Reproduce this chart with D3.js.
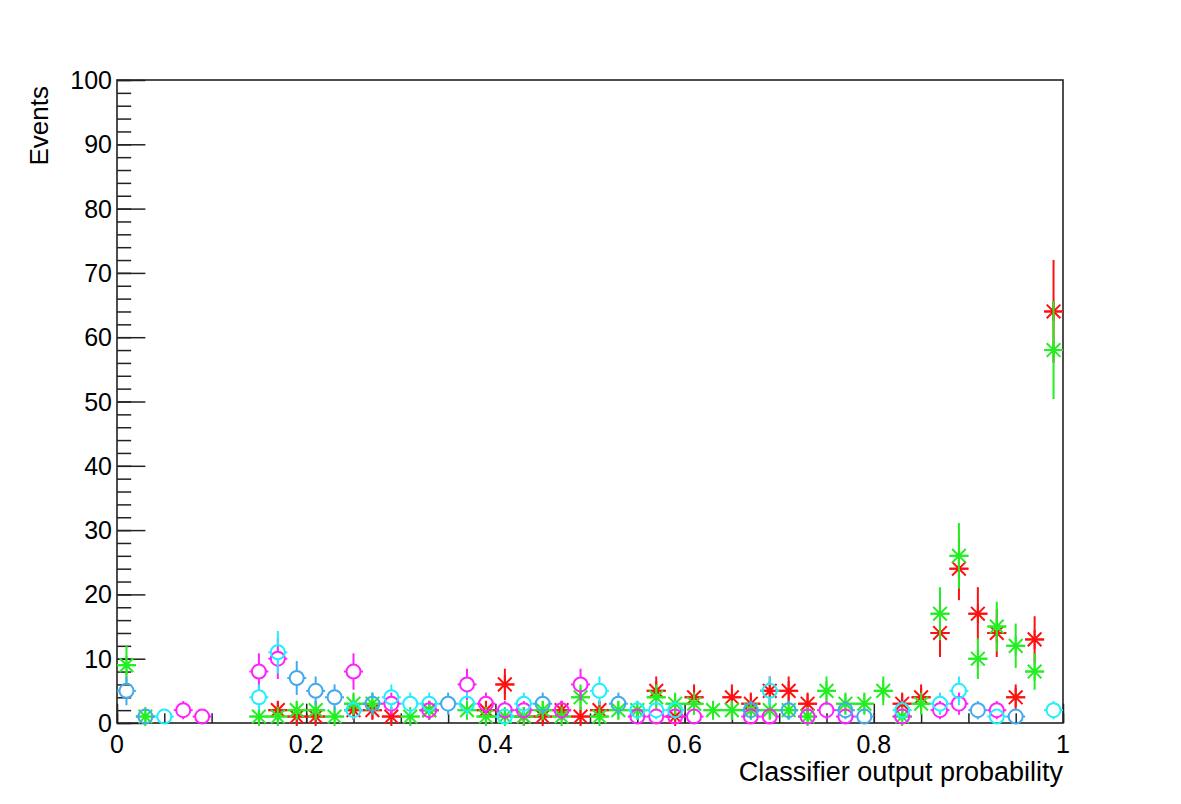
<!DOCTYPE html>
<html>
<head>
<meta charset="utf-8">
<script src="https://cdn.jsdelivr.net/npm/d3@7"></script>
<style>
  html, body { margin: 0; padding: 0; background: #fff; }
  svg text { font-family: "Liberation Sans", Arial, Helvetica, sans-serif; fill: #000; }
</style>
</head>
<body>
<svg id="chart" width="1181" height="804"></svg>
<script>
// bin centres, width 0.02 over [0,1]
const BIN_W = 0.02;

// per-series contents: [bin centre, events]; empty bins are left out
const redStars = [
  [0.17, 2], [0.19, 1], [0.21, 1], [0.25, 2], [0.27, 2], [0.29, 1], [0.33, 2],
  [0.39, 2], [0.41, 6], [0.43, 1], [0.45, 1], [0.47, 2], [0.49, 1], [0.51, 2],
  [0.57, 5], [0.59, 1], [0.61, 4], [0.65, 4], [0.67, 3], [0.69, 5], [0.71, 5],
  [0.73, 3], [0.83, 3], [0.85, 4], [0.87, 14], [0.89, 24], [0.91, 17],
  [0.93, 14], [0.95, 4], [0.97, 13], [0.99, 64]
];
const greenStars = [
  [0.01, 9], [0.03, 1], [0.15, 1], [0.17, 1], [0.19, 2], [0.21, 2], [0.23, 1],
  [0.25, 3], [0.27, 3], [0.31, 1], [0.33, 2], [0.37, 2], [0.39, 1], [0.41, 1],
  [0.43, 1], [0.45, 2], [0.47, 1], [0.49, 4], [0.51, 1], [0.53, 2], [0.55, 2],
  [0.57, 4], [0.59, 3], [0.61, 3], [0.63, 2], [0.65, 2], [0.67, 2], [0.69, 2],
  [0.71, 2], [0.73, 1], [0.75, 5], [0.77, 3], [0.79, 3], [0.81, 5], [0.83, 1],
  [0.85, 3], [0.87, 17], [0.89, 26], [0.91, 10], [0.93, 15], [0.95, 12],
  [0.97, 8], [0.99, 58]
];
const magentaCircles = [
  [0.07, 2], [0.09, 1], [0.15, 8], [0.17, 10], [0.25, 8], [0.29, 3], [0.33, 2],
  [0.37, 6], [0.39, 3], [0.41, 2], [0.43, 2], [0.47, 2], [0.49, 6], [0.55, 1],
  [0.57, 1], [0.59, 1], [0.61, 1], [0.67, 1], [0.69, 1], [0.73, 1], [0.75, 2],
  [0.77, 1], [0.83, 1], [0.87, 2], [0.89, 3], [0.93, 2]
];
const cyanCircles = [
  [0.05, 1], [0.15, 4], [0.17, 11], [0.25, 2], [0.29, 4], [0.31, 3], [0.33, 3],
  [0.37, 3], [0.41, 1], [0.43, 3], [0.51, 5], [0.55, 2], [0.57, 2], [0.59, 2],
  [0.69, 5], [0.83, 2], [0.87, 3], [0.89, 5], [0.93, 1], [0.99, 2]
];
const azureCircles = [
  [0.01, 5], [0.03, 1], [0.19, 7], [0.21, 5], [0.23, 4], [0.27, 3], [0.35, 3],
  [0.45, 3], [0.53, 3], [0.67, 2], [0.71, 2], [0.77, 2], [0.79, 1], [0.91, 2],
  [0.95, 1]
];

const X_TICKS = [0, 0.2, 0.4, 0.6, 0.8, 1];
const Y_TICKS = [0, 10, 20, 30, 40, 50, 60, 70, 80, 90, 100];
const X_TITLE = 'Classifier output probability';
const Y_TITLE = 'Events';

const SERIES = [
  { data: redStars,       color: '#ff1010', marker: 'star' },
  { data: greenStars,     color: '#22ee22', marker: 'star' },
  { data: magentaCircles, color: '#ff22ff', marker: 'circle' },
  { data: cyanCircles,    color: '#22eeff', marker: 'circle' },
  { data: azureCircles,   color: '#44aaee', marker: 'circle' }
];

// ── frame ────────────────────────────────────────────────────────────────────
const frame = { left: 117, top: 80, right: 1063, bottom: 723 };
const svg = d3.select('#chart');

const x = d3.scaleLinear().domain([0, 1]).range([frame.left, frame.right]);
const y = d3.scaleLinear().domain([0, 100]).range([frame.bottom, frame.top]);

const plotW = frame.right - frame.left;
const plotH = frame.bottom - frame.top;

// ROOT-style ticks: drawn inside the frame
const xMajorLen = 0.03 * plotH, yMajorLen = 0.03 * plotW;

const xAxis = d3.axisTop(x).tickValues(X_TICKS).tickSize(xMajorLen).tickFormat('');
const xMinor = d3.axisTop(x).tickValues(d3.range(0, 1.0001, 0.05)).tickSize(xMajorLen / 2).tickFormat('');
const yAxis = d3.axisRight(y).tickValues(Y_TICKS).tickSize(yMajorLen).tickFormat('');
const yMinor = d3.axisRight(y).tickValues(d3.range(0, 100.001, 2)).tickSize(yMajorLen / 2).tickFormat('');

function styleAxis(g) {
  g.select('.domain').remove();
  g.selectAll('line').attr('stroke', '#222').attr('stroke-width', 1.5);
}

svg.append('g').attr('transform', `translate(0,${frame.bottom})`).call(xMinor).call(styleAxis);
svg.append('g').attr('transform', `translate(0,${frame.bottom})`).call(xAxis).call(styleAxis);
svg.append('g').attr('transform', `translate(${frame.left},0)`).call(yMinor).call(styleAxis);
svg.append('g').attr('transform', `translate(${frame.left},0)`).call(yAxis).call(styleAxis);

svg.append('rect')
  .attr('x', frame.left).attr('y', frame.top)
  .attr('width', plotW).attr('height', plotH)
  .attr('fill', 'none').attr('stroke', '#222').attr('stroke-width', 1.6);

// tick labels
svg.append('g').selectAll('text').data(X_TICKS).join('text')
  .attr('x', d => x(d)).attr('y', 753)
  .attr('text-anchor', 'middle').attr('font-size', 25)
  .text(d => d3.format('~g')(d));

svg.append('g').selectAll('text').data(Y_TICKS).join('text')
  .attr('x', frame.left - 5).attr('y', d => y(d) + 9)
  .attr('text-anchor', 'end').attr('font-size', 25)
  .text(d => d);

// axis titles
svg.append('text')
  .attr('x', frame.right).attr('y', 781)
  .attr('text-anchor', 'end').attr('font-size', 27)
  .text(X_TITLE);

svg.append('text')
  .attr('transform', `translate(48,${frame.top + 6}) rotate(-90)`)
  .attr('text-anchor', 'end').attr('font-size', 26)
  .text(Y_TITLE);

// ── markers + errors ─────────────────────────────────────────────────────────
const CIRCLE_R = 7;
const STAR_R = 9.5;
const halfBinPx = x(BIN_W / 2) - x(0);

SERIES.forEach(s => {
  const g = svg.append('g');
  const gap = s.marker === 'circle' ? CIRCLE_R : 0;

  s.data.forEach(([bx, n]) => {
    const cx = x(bx), cy = y(n);
    const err = Math.sqrt(n);
    const yTop = y(n + err), yBot = y(Math.max(0, n - err));

    // vertical error bar (sqrt N), split around an open marker
    if (cy - yTop > gap)
      g.append('line').attr('x1', cx).attr('x2', cx).attr('y1', yTop).attr('y2', cy - gap);
    if (yBot - cy > gap)
      g.append('line').attr('x1', cx).attr('x2', cx).attr('y1', cy + gap).attr('y2', yBot);
    // horizontal error bar (half bin width)
    g.append('line').attr('x1', cx - halfBinPx).attr('x2', cx - gap).attr('y1', cy).attr('y2', cy);
    g.append('line').attr('x1', cx + gap).attr('x2', cx + halfBinPx).attr('y1', cy).attr('y2', cy);

    if (s.marker === 'circle') {
      g.append('circle').attr('cx', cx).attr('cy', cy).attr('r', CIRCLE_R)
        .attr('fill', 'none');
    } else {
      const d = STAR_R * 0.72;
      g.append('path').attr('d',
        `M${cx - STAR_R},${cy}H${cx + STAR_R}` +
        `M${cx},${cy - STAR_R}V${cy + STAR_R}` +
        `M${cx - d},${cy - d}L${cx + d},${cy + d}` +
        `M${cx - d},${cy + d}L${cx + d},${cy - d}`);
    }
  });

  g.selectAll('line, circle, path')
    .attr('stroke', s.color).attr('stroke-width', 2);
});
</script>
</body>
</html>
